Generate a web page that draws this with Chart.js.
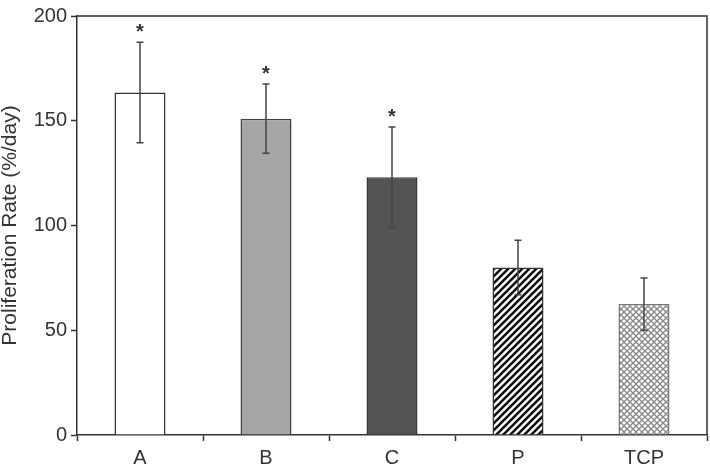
<!DOCTYPE html>
<html><head><meta charset="utf-8">
<script src="https://cdn.jsdelivr.net/npm/chart.js@4"></script>
<style>html,body{margin:0;padding:0;background:#fff}#wrap{width:710px;height:468px}</style>
</head><body><div id="wrap"><canvas id="c" width="710" height="468"></canvas></div>
<script>
const categories = ['A','B','C','P','TCP'];
const rates = [163.5, 151, 123, 80, 62.5];
const errors = [24, 16.5, 24, 13, 12.5];
const significant = [true, true, true, false, false];
const yTicks = [0, 50, 100, 150, 200];

function stripePattern(){
  const s = 7, c = document.createElement('canvas'); c.width = s; c.height = s;
  const x = c.getContext('2d'); x.fillStyle = '#fff'; x.fillRect(0,0,s,s);
  x.strokeStyle = '#111'; x.lineWidth = 2.6; x.lineCap = 'square';
  for (const o of [-s, 0, s]) { x.beginPath(); x.moveTo(o, s); x.lineTo(o + s, 0); x.stroke(); }
  return x.createPattern(c, 'repeat');
}
function crossPattern(){
  const s = 6, c = document.createElement('canvas'); c.width = s; c.height = s;
  const x = c.getContext('2d'); x.fillStyle = '#fff'; x.fillRect(0,0,s,s);
  x.strokeStyle = '#8a8a8a'; x.lineWidth = 1.3;
  for (const o of [-s, 0, s]) {
    x.beginPath(); x.moveTo(o, s); x.lineTo(o + s, 0); x.stroke();
    x.beginPath(); x.moveTo(o, 0); x.lineTo(o + s, s); x.stroke();
  }
  return x.createPattern(c, 'repeat');
}
const ctx = document.getElementById('c').getContext('2d');
const fills = ['#ffffff', '#a6a6a6', '#545454', stripePattern(), crossPattern()];
const borders = ['#333333', '#444444', '#3a3a3a', '#333333', '#777777'];

const errPlugin = {
  id: 'errs',
  afterDatasetsDraw(chart){
    const c = chart.ctx, meta = chart.getDatasetMeta(0), y = chart.scales.y;
    c.save();
    meta.data.forEach((bar, i) => {
      const top = y.getPixelForValue(rates[i] + errors[i]);
      const bot = y.getPixelForValue(rates[i] - errors[i]);
      c.strokeStyle = '#444'; c.lineWidth = 1.5;
      c.beginPath(); c.moveTo(bar.x, top); c.lineTo(bar.x, bot);
      c.moveTo(bar.x - 3.5, top); c.lineTo(bar.x + 3.5, top);
      c.moveTo(bar.x - 3.5, bot); c.lineTo(bar.x + 3.5, bot); c.stroke();
      if (significant[i]) {
        c.fillStyle = '#333'; c.font = 'bold 20px "Liberation Sans"';
        c.textAlign = 'center'; c.textBaseline = 'alphabetic';
        c.fillText('*', bar.x, top - 16 + 11.5);
      }
    });
    c.restore();
  },
  afterDraw(chart){
    const a = chart.chartArea, c = chart.ctx;
    c.save(); c.strokeStyle = '#333'; c.lineWidth = 1.5;
    c.beginPath(); c.moveTo(a.left, a.top); c.lineTo(a.right, a.top); c.lineTo(a.right, a.bottom); c.stroke();
    c.restore();
  }
};

new Chart(ctx, {
  type: 'bar',
  plugins: [errPlugin],
  data: { labels: categories, datasets: [{ data: rates, backgroundColor: fills, borderColor: borders, borderWidth: 1.5, barPercentage: 0.405, categoryPercentage: 1 }] },
  options: {
    responsive: false, animation: false, devicePixelRatio: 1,
    layout: { padding: { top: 15, right: 3, left: 0, bottom: 0 } },
    plugins: { legend: { display: false }, tooltip: { enabled: false } },
    scales: {
      x: {
        grid: { drawOnChartArea: false, drawTicks: true, tickLength: 6, color: '#333', tickWidth: 1.5, offset: true },
        border: { color: '#333', width: 1.5 },
        ticks: { color: '#333', font: { family: '"Liberation Sans"', size: 20 }, padding: 5 },
        afterFit(s){ s.height = 33; }
      },
      y: {
        min: 0, max: 200,
        afterBuildTicks(s){ s.ticks = yTicks.map(v => ({ value: v })); },
        grid: { drawOnChartArea: false, drawTicks: true, tickLength: 6, color: '#333', tickWidth: 1.5 },
        border: { color: '#333', width: 1.5 },
        ticks: { color: '#333', font: { family: '"Liberation Sans"', size: 20 }, padding: 4 },
        title: { display: true, text: 'Proliferation Rate (%/day)', color: '#333', font: { family: '"Liberation Sans"', size: 21, lineHeight: 1 }, padding: 0 },
        afterFit(s){ s.width = 77; }
      }
    }
  }
});
</script></body></html>
